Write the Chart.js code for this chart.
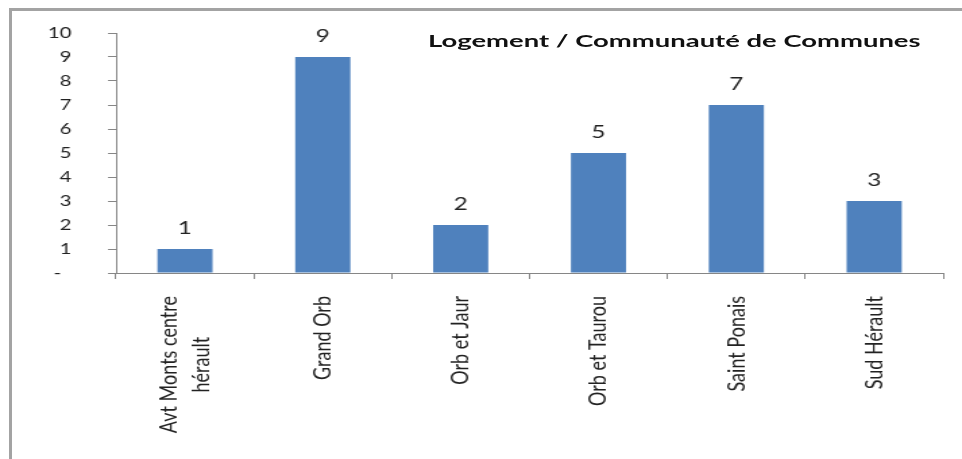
<!DOCTYPE html>
<html>
<head>
<meta charset="utf-8">
<script src="https://cdn.jsdelivr.net/npm/chart.js@4"></script>
<style>
  html, body { margin: 0; padding: 0; background: #fff; }
  #page { position: relative; width: 962px; height: 459px; overflow: hidden; }
  #wrap { position: absolute; left: 0; top: 0; transform-origin: 0 0; }
  #frame { position: absolute; left: 9px; top: 8px; right: -10px; bottom: -10px;
           border-top: 3px solid #a3a3a3; border-left: 3px solid #a3a3a3; }
  #title { position: absolute; left: 428px; top: 30px; white-space: nowrap;
           font: bold 17px Lato, "Open Sans", sans-serif; color: #111;
           transform-origin: 0 0; }
</style>
</head>
<body>
<div id="page">
  <div id="wrap"><canvas id="chart" width="713" height="459"></canvas></div>
  <div id="frame"></div>
  <div id="title">Logement / Communauté de Communes</div>
</div>
<script>
const categories = [
  ['Avt Monts centre', 'hérault'],
  'Grand Orb',
  'Orb et Jaur',
  'Orb et Taurou',
  'Saint Ponais',
  'Sud Hérault'
];
const values = [1, 9, 2, 5, 7, 3];
const yTicks = [0, 1, 2, 3, 4, 5, 6, 7, 8, 9, 10];

// le rendu d'origine est étiré horizontalement
const stretch = 962 / 713;
document.getElementById('wrap').style.transform = 'scaleX(' + stretch + ')';

const title = document.getElementById('title');
title.style.transform = 'scaleX(' + (492 / title.offsetWidth) + ')';

// étiquettes de valeur au-dessus des barres
const valueLabels = {
  id: 'valueLabels',
  afterDatasetsDraw(chart) {
    const ctx = chart.ctx;
    ctx.save();
    ctx.font = '18px Lato, sans-serif';
    ctx.fillStyle = '#222';
    ctx.textAlign = 'center';
    ctx.textBaseline = 'middle';
    chart.getDatasetMeta(0).data.forEach(function(bar, i) {
      ctx.fillText(String(values[i]), bar.x, bar.y - 21);
    });
    ctx.restore();
  }
};

// libellés sur plusieurs lignes : centrés sur la graduation, lignes centrées entre elles
const centerMultiline = {
  id: 'centerMultiline',
  beforeDraw(chart) {
    const ctx = chart.ctx;
    chart.scales.x.getLabelItems().forEach(function(item) {
      if (!Array.isArray(item.label) || item._centered) return;
      ctx.save();
      ctx.font = item.font.string;
      const w = Math.max.apply(null, item.label.map(function(l) { return ctx.measureText(l).width; }));
      ctx.restore();
      const n = item.label.length;
      item.options.textAlign = 'center';
      item.options.translation[1] += w / 2;
      item.options.translation[0] -= (n - 1) * item.font.lineHeight / 2;
      item._centered = true;
    });
  }
};

new Chart(document.getElementById('chart').getContext('2d'), {
  type: 'bar',
  data: {
    labels: categories,
    datasets: [{
      data: values,
      backgroundColor: '#4f81bd',
      barPercentage: 0.4,
      categoryPercentage: 1
    }]
  },
  options: {
    responsive: false,
    animation: false,
    layout: { padding: { top: 33, right: 14, left: 0, bottom: 0 } },
    scales: {
      y: {
        min: 0,
        max: 10,
        afterFit: function(s) {
          s.width = 86;
          // le padding des graduations ne doit pas repousser la zone du graphique
          s.paddingTop = 0;
          s.paddingBottom = 0;
        },
        afterBuildTicks: function(s) { s.ticks = yTicks.map(function(v) { return { value: v }; }); },
        ticks: {
          padding: 27,
          color: '#222',
          font: { family: 'Lato', size: 15 },
          callback: function(v) { return v === 0 ? '-  ' : v; }
        },
        grid: { drawOnChartArea: false, tickLength: 6, color: '#868686' },
        border: { color: '#868686' }
      },
      x: {
        afterFit: function(s) { s.height = 186; },
        ticks: {
          minRotation: 90,
          maxRotation: 90,
          padding: 17,
          color: '#222',
          font: { family: 'Lato', size: 18, lineHeight: 1.3 }
        },
        grid: { offset: true, drawOnChartArea: false, tickLength: 6, color: '#868686' },
        border: { color: '#868686' }
      }
    },
    plugins: {
      legend: { display: false },
      tooltip: { enabled: false }
    }
  },
  plugins: [valueLabels, centerMultiline]
});
</script>
</body>
</html>
